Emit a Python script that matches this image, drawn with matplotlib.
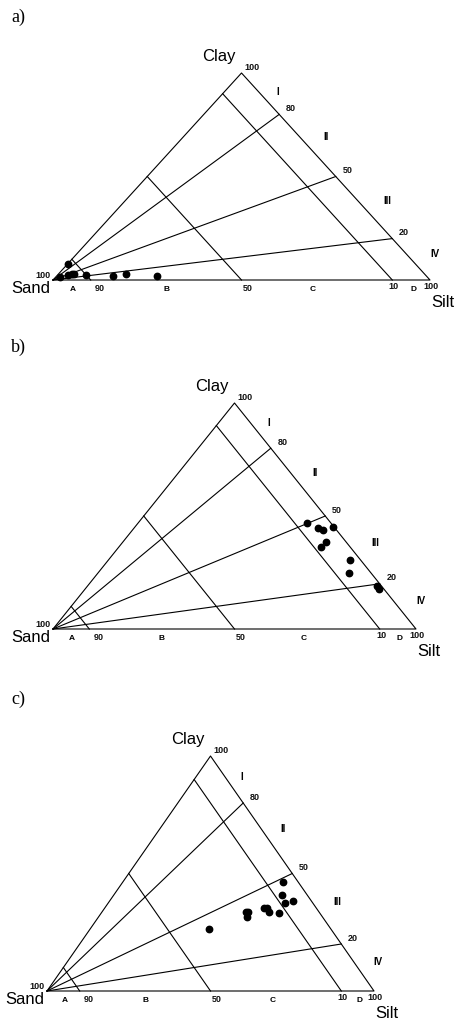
#===========================================================================================
# PEJRUP TERNARY DIAGRAMS (sand / silt / clay)
#===========================================================================================

import matplotlib
matplotlib.use('Agg')
import matplotlib.pyplot as plt
import numpy as np

plt.rcParams['font.family'] = ['Liberation Sans', 'DejaVu Sans']

#%%
# data, percentages (sand, silt, clay)
sand_a = [97.3, 92.1, 94.7, 93.7, 93.1, 90.0, 83.0, 79.1, 71.4]
silt_a = [1.1, 0.2, 2.9, 3.6, 4.2, 7.6, 14.9, 18.0, 26.5]
clay_a = [1.6, 7.7, 2.4, 2.7, 2.7, 2.4, 2.1, 2.9, 2.1]

sand_b = [6.7, 4.5, 3.5, 0.3, 5.5, 8.1, 2.9, 6.1, 1.2, 1.3]
silt_b = [46.5, 50.6, 52.5, 54.7, 55.9, 55.5, 66.4, 69.3, 79.8, 81.0]
clay_b = [46.8, 44.9, 44.0, 45.0, 38.6, 36.4, 30.7, 24.6, 19.0, 17.7]

sand_c = [4.6, 7.7, 5.8, 8.5, 12.4, 15.3, 15.8, 15.0, 22.4, 21.6, 23.2, 37.4]
silt_c = [49.1, 51.4, 56.1, 54.2, 54.2, 51.2, 48.8, 49.6, 44.0, 44.8, 45.4, 36.3]
clay_c = [46.3, 40.9, 38.1, 37.3, 33.4, 33.5, 35.4, 35.4, 33.6, 33.6, 31.4, 26.3]

# classification lines
sand_lines = [90, 50, 10]          # lines parallel to clay-silt side
clay_ratios = [80, 50, 20]         # clay/(clay+silt) lines from the sand corner
sand_classes = ['A', 'B', 'C', 'D']
ratio_classes = ['I', 'II', 'III', 'IV']

W, H = 457, 1021


def to_xy(sand, silt, clay):
    """ternary -> cartesian, base 0..1, apex height 1"""
    sand, silt, clay = np.asarray(sand), np.asarray(silt), np.asarray(clay)
    tot = sand + silt + clay
    return (silt + 0.5 * clay) / tot, clay / tot


def pejrup(box, sand, silt, clay, label, lab_y):
    # box = (left px, base px from top, width px, height px)
    l, b, w, h = box
    ax = plt.gcf().add_axes([l / W, 1 - b / H, w / W, h / H])
    ax.set_xlim(0, 1)
    ax.set_ylim(0, 1)
    ax.axis('off')
    kw = dict(color='black', lw=0.8, clip_on=False)

    # outline
    ax.plot([0, 1, 0.5, 0], [0, 0, 1, 0], **kw)
    for s in sand_lines:
        ax.plot([1 - s / 100, 0.5 * (1 - s / 100)], [0, 1 - s / 100], **kw)
    for r in clay_ratios:
        ax.plot([0, 1 - 0.5 * r / 100], [0, r / 100], **kw)

    # samples
    x, y = to_xy(sand, silt, clay)
    ax.plot(x, y, 'o', color='black', ms=4.6, clip_on=False)

    # numbers
    small = dict(fontsize=6.5, fontweight='bold', color='#111111')
    ax.annotate('100', (0.5, 1), xytext=(2, 1), textcoords='offset points',
                ha='left', va='bottom', **small)
    for r in clay_ratios:
        ax.annotate(str(r), (1 - 0.5 * r / 100, r / 100), xytext=(5, 1),
                    textcoords='offset points', ha='left', va='bottom', **small)
    ax.annotate('100', (0, 0), xytext=(-2, 0), textcoords='offset points',
                ha='right', va='bottom', **small)
    ax.annotate('90', (0.1, 0), xytext=(3, -6), textcoords='offset points',
                ha='left', va='center', **small)
    ax.annotate('50', (0.5, 0), xytext=(1, -6), textcoords='offset points',
                ha='left', va='center', **small)
    ax.annotate('10', (0.9, 0), xytext=(1, -5), textcoords='offset points',
                ha='center', va='center', **small)
    ax.annotate('100', (1, 0), xytext=(1, -5), textcoords='offset points',
                ha='center', va='center', **small)

    # class letters
    for c, xc in zip(sand_classes, [0.053, 0.30, 0.69, 0.955]):
        ax.annotate(c, (xc, 0), xytext=(0, -7), textcoords='offset points',
                    ha='center', va='center', fontsize=6, fontweight='bold')
    for c, rc, dx in zip(ratio_classes, [0.91, 0.69, 0.38, 0.125], [0.05, 0.068, 0.078, 0.076]):
        ax.text(1 - 0.5 * rc + dx, rc, c, ha='center', va='center',
                fontsize=7, fontweight='bold')

    # corner names
    ax.annotate('Clay', (0.5, 1), xytext=(-16, 12), textcoords='offset points',
                ha='center', va='center', fontsize=12)
    ax.annotate('Sand', (0, 0), xytext=(-16, -6), textcoords='offset points',
                ha='center', va='center', fontsize=12)
    ax.annotate('Silt', (1, 0), xytext=(9, -16), textcoords='offset points',
                ha='center', va='center', fontsize=12)

    plt.gcf().text(11 / W, 1 - lab_y / H, label, ha='left', va='center',
                   fontsize=13, family='Liberation Serif')
    return ax


fig = plt.figure(figsize=(W / 100, H / 100), dpi=100)

pejrup((53, 280, 377, 207), sand_a, silt_a, clay_a, 'a)', 17)
pejrup((53, 629, 363, 226), sand_b, silt_b, clay_b, 'b)', 347)
pejrup((47, 991, 327, 235), sand_c, silt_c, clay_c, 'c)', 699)

fig.savefig('out.png', dpi=100)
